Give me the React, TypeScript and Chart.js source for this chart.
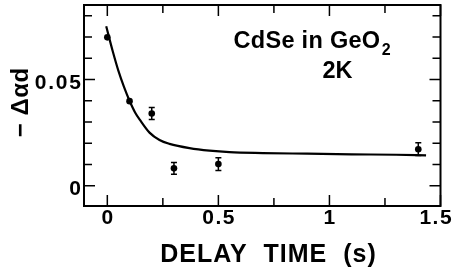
import React, { useEffect, useRef } from "react";
import { Chart, registerables } from "chart.js";

Chart.register(...registerables);

// Measured points
const delayTime = [0, 0.1, 0.2, 0.3, 0.5, 1.4];
const signal = [0.0698, 0.0398, 0.034, 0.0082, 0.0102, 0.0172];
const signalErr = [0, 0, 0.0028, 0.0028, 0.003, 0.003];

// Fit curve
const fitTime = [-0.005, 0.025, 0.05, 0.075, 0.1, 0.125, 0.15, 0.19, 0.235, 0.28, 0.37, 0.46, 0.55, 0.7, 0.9, 1.1, 1.3, 1.435];
const fitSignal = [0.075, 0.063, 0.054, 0.0465, 0.04, 0.0345, 0.0305, 0.025, 0.0215, 0.0197, 0.0177, 0.0165, 0.0158, 0.0154, 0.0151, 0.0148, 0.0146, 0.0143];

// Axis ticks
const xMajorTicks = [0, 0.5, 1, 1.5];
const xTickLabels = ["0", "0.5", "1", "1.5"];
const xMinorTicks = [0.25, 0.75, 1.25];
const yMajorTicks = [0, 0.05];
const yTickLabels = ["0", "0.05"];
const yMinorTicks = [0.01, 0.02, 0.03, 0.04, 0.06, 0.07, 0.08];

const xTitle = "DELAY  TIME  (s)";
const yTitle = "− Δαd";
const noteMain = "CdSe in GeO";
const noteSub = "2";
const noteTemp = "2K";

const FONT = '"Liberation Sans", Arial, Helvetica, sans-serif';

function textWidth(ctx: CanvasRenderingContext2D, text: string, font: string, spacing: number) {
  ctx.font = font;
  (ctx as any).letterSpacing = "0px";
  return ctx.measureText(text).width + spacing * (Array.from(text).length - 1);
}

function drawSpaced(
  ctx: CanvasRenderingContext2D,
  text: string,
  x: number,
  y: number,
  font: string,
  spacing: number,
  align: "left" | "center" | "right"
) {
  const w = textWidth(ctx, text, font, spacing);
  let sx = x;
  if (align === "center") sx = x - w / 2;
  if (align === "right") sx = x - w;
  ctx.font = font;
  (ctx as any).letterSpacing = spacing + "px";
  ctx.textAlign = "left";
  ctx.textBaseline = "alphabetic";
  ctx.fillText(text, sx, y);
  (ctx as any).letterSpacing = "0px";
  return w;
}

const framePlugin = {
  id: "frameTicks",
  afterDatasetsDraw(chart: any) {
    const ctx: CanvasRenderingContext2D = chart.ctx;
    const { left, right, top, bottom } = chart.chartArea;
    const xs = chart.scales.x;
    const ys = chart.scales.y;
    ctx.save();
    ctx.strokeStyle = "#000";
    ctx.fillStyle = "#000";

    // error bars
    ctx.lineWidth = 1.5;
    delayTime.forEach((t, i) => {
      const e = signalErr[i];
      if (!e) return;
      const px = xs.getPixelForValue(t);
      const y1 = ys.getPixelForValue(signal[i] + e);
      const y2 = ys.getPixelForValue(signal[i] - e);
      ctx.beginPath();
      ctx.moveTo(px, y1);
      ctx.lineTo(px, y2);
      ctx.moveTo(px - 3, y1);
      ctx.lineTo(px + 3, y1);
      ctx.moveTo(px - 3, y2);
      ctx.lineTo(px + 3, y2);
      ctx.stroke();
    });

    // frame
    ctx.lineWidth = 2;
    ctx.strokeRect(left, top, right - left, bottom - top);

    // ticks
    ctx.lineWidth = 1.5;
    const major = 11;
    const minor = 8;
    const xt = (v: number, len: number) => {
      const px = xs.getPixelForValue(v);
      ctx.beginPath();
      ctx.moveTo(px, bottom);
      ctx.lineTo(px, bottom - len);
      ctx.moveTo(px, top);
      ctx.lineTo(px, top + len);
      ctx.stroke();
    };
    const yt = (v: number, len: number) => {
      const py = ys.getPixelForValue(v);
      ctx.beginPath();
      ctx.moveTo(left, py);
      ctx.lineTo(left + len, py);
      ctx.moveTo(right, py);
      ctx.lineTo(right - len, py);
      ctx.stroke();
    };
    xMajorTicks.forEach((v) => xt(v, major));
    xMinorTicks.forEach((v) => xt(v, minor));
    yMajorTicks.forEach((v) => yt(v, major));
    yMinorTicks.forEach((v) => yt(v, minor));

    // tick labels
    const tickFont = `bold 21px ${FONT}`;
    xMajorTicks.forEach((v, i) => {
      const px = xs.getPixelForValue(v);
      drawSpaced(ctx, xTickLabels[i], i === xMajorTicks.length - 1 ? px - 5 : px, bottom + 18, tickFont, 1.5, "center");
    });
    yMajorTicks.forEach((v, i) => {
      const py = ys.getPixelForValue(v);
      drawSpaced(ctx, yTickLabels[i], left - 3, py + 9.5, tickFont, 1.8, "right");
    });

    // axis titles
    const titleFont = `bold 25px ${FONT}`;
    drawSpaced(ctx, xTitle, 268, 262, titleFont, 1, "center");
    ctx.save();
    ctx.translate(28, 102.5);
    ctx.rotate(-Math.PI / 2);
    drawSpaced(ctx, yTitle, 0, 0, `bold 24px ${FONT}`, 0.5, "center");
    ctx.restore();

    // annotation
    const noteFont = `bold 23.5px ${FONT}`;
    const w = drawSpaced(ctx, noteMain, 233.5, 47.5, noteFont, 0.3, "left");
    drawSpaced(ctx, noteSub, 233.5 + w + 1.5, 55, `bold 16px ${FONT}`, 0, "left");
    drawSpaced(ctx, noteTemp, 322.5, 78, noteFont, 0, "left");

    ctx.restore();
  },
};

export default function App() {
  const ref = useRef<HTMLCanvasElement | null>(null);
  useEffect(() => {
    if (!ref.current) return;
    const chart = new Chart(ref.current, {
      type: "scatter",
      data: {
        datasets: [
          {
            label: "fit",
            data: fitTime.map((t, i) => ({ x: t, y: fitSignal[i] })),
            showLine: true,
            borderColor: "#000",
            borderWidth: 2.2,
            pointRadius: 0,
            cubicInterpolationMode: "monotone",
            fill: false,
          },
          {
            label: "data",
            data: delayTime.map((t, i) => ({ x: t, y: signal[i] })),
            showLine: false,
            pointRadius: 3.3,
            pointBackgroundColor: "#000",
            pointBorderColor: "#000",
            pointBorderWidth: 0,
          },
        ],
      },
      options: {
        responsive: false,
        animation: false,
        devicePixelRatio: 1,
        layout: { padding: { left: 84, top: 5, right: 17.5, bottom: 67 } },
        plugins: { legend: { display: false }, tooltip: { enabled: false } },
        scales: {
          x: { type: "linear", min: -0.105, max: 1.5, display: false },
          y: { type: "linear", min: -0.0095, max: 0.085, display: false },
        },
      },
      plugins: [framePlugin],
    } as any);
    return () => chart.destroy();
  }, []);
  return (
    <div style={{ position: "fixed", left: 0, top: 0, width: 458, height: 273, background: "#fff" }}>
      <canvas ref={ref} width={458} height={273} />
    </div>
  );
}
